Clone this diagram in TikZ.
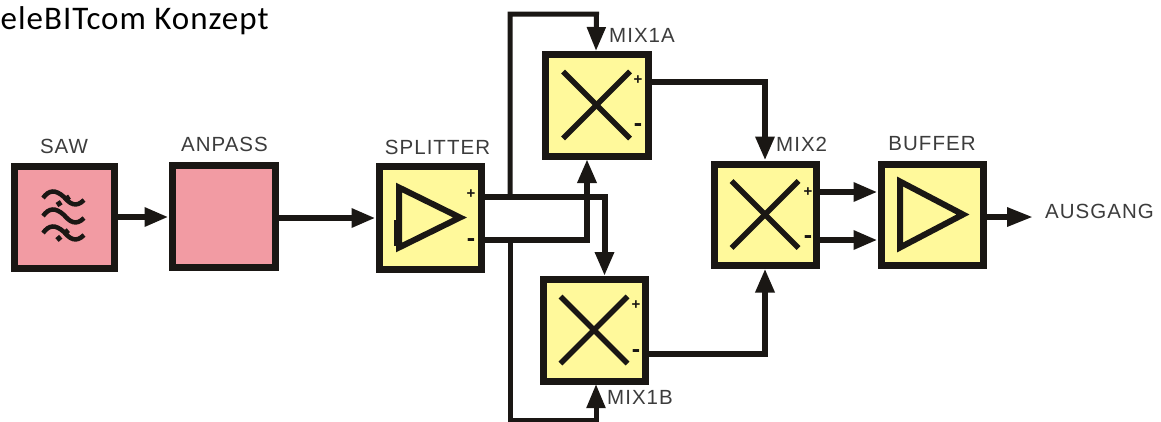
\documentclass[tikz,border=0pt]{standalone}
\usepackage{fontspec}
\setmainfont{Liberation Sans}
\newfontfamily\titlefont{Carlito}
\usepackage{xcolor}
\usetikzlibrary{arrows.meta}
\definecolor{inkblack}{HTML}{1A1714}
\definecolor{boxpink}{HTML}{F29BA3}
\definecolor{boxyellow}{HTML}{FFF99B}
\definecolor{lblgrey}{HTML}{3C3C3C}
\tikzset{
    block/.style = {draw=inkblack, line width=7, inner sep=0},
    wire/.style = {draw=inkblack, line width=6},
    arrowwire/.style = {wire, -{Triangle[length=24,width=18]}},
    sym/.style = {draw=inkblack, line width=5.5},
    lbl/.style = {text=lblgrey, font=\fontsize{20.5}{22}\selectfont\addfontfeature{LetterSpace=5}, inner sep=0},
    pluslbl/.style = {text=inkblack, font=\fontsize{15}{16}\selectfont\bfseries, inner sep=0},
    minuslbl/.style = {text=inkblack, font=\fontsize{25}{26}\selectfont\bfseries, inner sep=0},
}

\begin{document}
\begin{tikzpicture}[x=1pt, y=-1pt]
    \useasboundingbox (0,0) rectangle (1161,421);
    % title
    \node[anchor=base west, inner sep=0, text=black, font=\titlefont\fontsize{33}{35}\selectfont\addfontfeature{LetterSpace=3}] (title) at (0.5,29) {eleBITcom Konzept};
    % blocks
    \node[block, fill=boxpink, minimum width=100, minimum height=102] (saw) at (64,217) {};
    \node[block, fill=boxpink, minimum width=103, minimum height=102] (anpass) at (223.5,216) {};
    \node[block, fill=boxyellow, minimum width=102, minimum height=103] (splitter) at (430,217.5) {};
    \node[block, fill=boxyellow, minimum width=103, minimum height=102] (mixa) at (596.5,105) {};
    \node[block, fill=boxyellow, minimum width=102, minimum height=102] (mixb) at (594,330) {};
    \node[block, fill=boxyellow, minimum width=102, minimum height=101] (mixc) at (765,214.5) {};
    \node[block, fill=boxyellow, minimum width=102, minimum height=101] (buffer) at (932,214.5) {};
    % labels
    \node[lbl] (sawlbl) at (64,146) {SAW};
    \node[lbl] (anpasslbl) at (224.5,144) {ANPASS};
    \node[lbl] (splitterlbl) at (437.5,147) {SPLITTER};
    \node[lbl, anchor=west] (mixalbl) at (609,35) {MIX1A};
    \node[lbl, anchor=west] (mixblbl) at (607,397) {MIX1B};
    \node[lbl, anchor=west] (mixclbl) at (776,144) {MIX2};
    \node[lbl] (bufferlbl) at (932,144) {BUFFER};
    \node[lbl, anchor=west] (ausganglbl) at (1045,211) {AUSGANG};
    % plus and minus marks
    \node[pluslbl] (splitterp) at (471,194) {+};
    \node[minuslbl] (splitterm) at (471,243) {-};
    \node[pluslbl] (mixap) at (638,80) {+};
    \node[minuslbl] (mixam) at (638,128) {-};
    \node[pluslbl] (mixbp) at (636,305) {+};
    \node[minuslbl] (mixbm) at (636,354) {-};
    \node[pluslbl] (mixcp) at (808,192) {+};
    \node[minuslbl] (mixcm) at (808,240) {-};
    % mixer crosses
    \foreach \m in {mixa,mixb,mixc}{
        \draw[sym] ([shift={(-33.5,-33.5)}]\m.center) -- ([shift={(33.5,33.5)}]\m.center);
        \draw[sym] ([shift={(-33.5,33.5)}]\m.center) -- ([shift={(33.5,-33.5)}]\m.center);
    }
    % amplifier triangles
    \draw[sym, line width=6] ([shift={(-31,-30)}]splitter.center) -- ([shift={(30,0)}]splitter.center) -- ([shift={(-31,30)}]splitter.center) -- cycle;
    \draw[sym, line width=4] ([shift={(-34,2)}]splitter.center) -- ([shift={(-34,28)}]splitter.center);
    \draw[sym, line width=6] ([shift={(-32,-33)}]buffer.center) -- ([shift={(31,0)}]buffer.center) -- ([shift={(-32,33)}]buffer.center) -- cycle;
    % filter waves
    \foreach \dy in {-19,-1,16}{
        \draw[inkblack, line width=4.5] ([shift={(-21,\dy)}]saw.center) .. controls ([shift={(-15,\dy-8)}]saw.center) and ([shift={(-9,\dy-9)}]saw.center) .. ([shift={(0,\dy-1)}]saw.center) .. controls ([shift={(6,\dy+6)}]saw.center) and ([shift={(12,\dy+10)}]saw.center) .. ([shift={(20,\dy+2)}]saw.center);
    }
    \draw[inkblack, line width=5, dash pattern=on 5 off 5] ([shift={(-7,-12)}]saw.center) -- ([shift={(8,-22)}]saw.center);
    \draw[inkblack, line width=5, dash pattern=on 5 off 5] ([shift={(-7,23)}]saw.center) -- ([shift={(8,10)}]saw.center);
    % ports
    \coordinate (splitplus) at (splitter.east |- 0,197);
    \coordinate (splitminus) at (splitter.east |- 0,240);
    \coordinate (mixaout) at (mixa.east |- 0,82);
    \coordinate (mixbout) at (mixb.east |- 0,354);
    \coordinate (topturn) at (510,14);
    \coordinate (botturn) at (510,420);
    % connectors
    \draw[arrowwire] (saw.east) -- (anpass.west |- saw.east);
    \draw[arrowwire] (anpass.east |- 0,218) -- (splitter.west |- 0,218);
    \draw[arrowwire] (splitplus) -- (604.5,197) -- (604.5,276);
    \draw[arrowwire] (splitminus) -- (587,240) -- (587,159);
    \draw[arrowwire, line width=5] (topturn |- splitplus) -- (topturn) -- (mixa.north |- topturn) -- (596,51);
    \draw[arrowwire, line width=5] (botturn |- splitminus) -- (botturn) -- (596,420) -- (596,384);
    \draw[arrowwire] (mixaout) -- (mixc.north |- mixaout) -- (mixc.north);
    \draw[arrowwire] (mixbout) -- (mixc.south |- mixbout) -- (mixc.south);
    \draw[arrowwire] (mixc.east |- 0,192) -- (buffer.west |- 0,192);
    \draw[arrowwire] (mixc.east |- 0,240) -- (buffer.west |- 0,240);
    \coordinate (ausgang) at (1033,217);
    \draw[arrowwire, {Triangle[length=26,width=18]}-] (ausgang) -- (buffer.east |- ausgang);
\end{tikzpicture}
\end{document}
